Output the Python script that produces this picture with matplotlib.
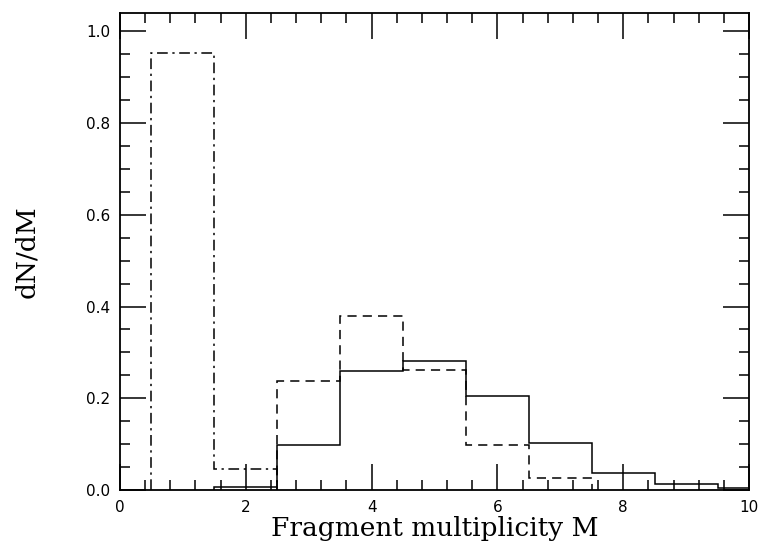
import matplotlib
matplotlib.use("Agg")
from matplotlib import pyplot as plt
from matplotlib.ticker import MultipleLocator, FormatStrFormatter

# bin edges and heights (dN/dM)
edges_a = [0.5, 1.5, 2.5]
vals_a = [0.952, 0.046]          # dash-dot

edges_b = [2.5, 3.5, 4.5, 5.5, 6.5, 7.5]
vals_b = [0.238, 0.380, 0.262, 0.097, 0.025]   # dashed

edges_c = [1.5, 2.5, 3.5, 4.5, 5.5, 6.5, 7.5, 8.5, 9.5, 10.5]
vals_c = [0.006, 0.098, 0.260, 0.281, 0.204, 0.103, 0.036, 0.012, 0.004]   # solid

fig = plt.figure(figsize=(7.62, 5.48), dpi=100)
ax = fig.add_axes([0.1575, 0.106, 0.8255, 0.871])

ax.stairs(vals_a, edges_a, baseline=0, color='black', lw=1.1,
          linestyle=(0, (7, 3, 1.5, 3)))
ax.stairs(vals_b, edges_b, baseline=0, color='black', lw=1.1,
          linestyle=(0, (6, 4)))
ax.stairs(vals_c, edges_c, baseline=0, color='black', lw=1.1)

ax.set_xlim(0, 10)
ax.set_ylim(0, 1.041)
ax.xaxis.set_major_locator(MultipleLocator(2))
ax.xaxis.set_minor_locator(MultipleLocator(0.4))
ax.yaxis.set_major_locator(MultipleLocator(0.2))
ax.yaxis.set_minor_locator(MultipleLocator(0.05))
ax.yaxis.set_major_formatter(FormatStrFormatter('%.1f'))
ax.tick_params(which='both', direction='in', top=True, right=True, width=1.1)
ax.tick_params(which='major', length=19, labelsize=11, pad=7)
ax.tick_params(which='minor', length=7)
for s in ax.spines.values():
    s.set_linewidth(1.3)
for t in ax.get_xticklabels() + ax.get_yticklabels():
    t.set_family('DejaVu Sans')

ax.set_xlabel('Fragment multiplicity M', family='DejaVu Serif', fontsize=19, labelpad=1)
ax.set_ylabel('dN/dM', family='DejaVu Serif', fontsize=19, labelpad=34)

plt.savefig('out.png')
